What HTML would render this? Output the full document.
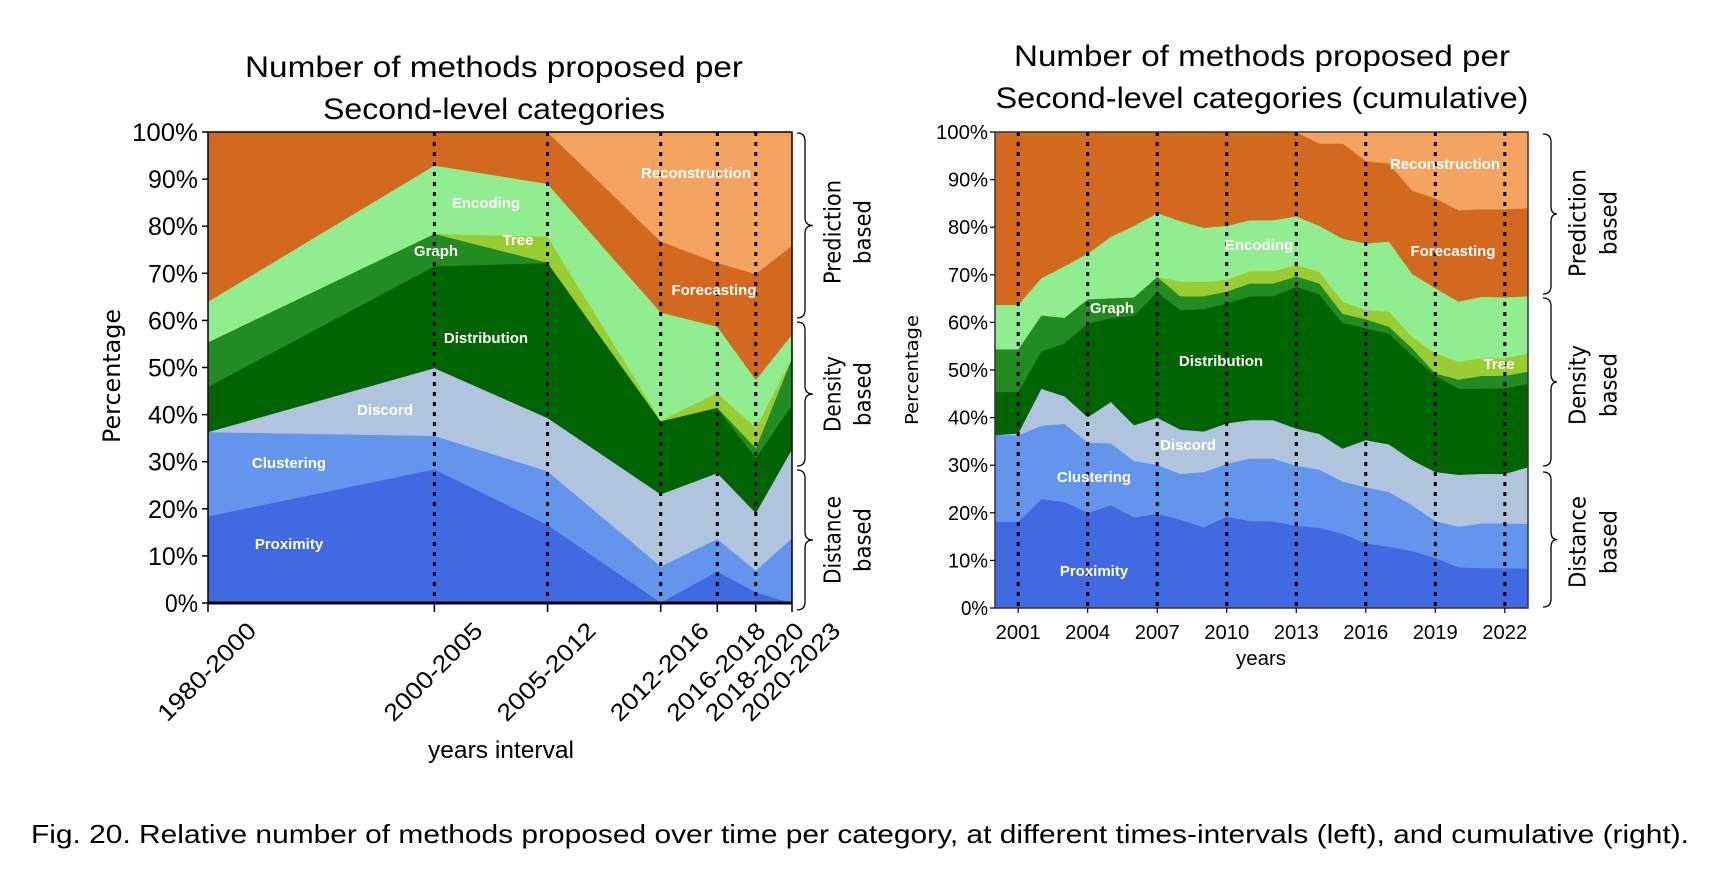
<!DOCTYPE html>
<html><head><meta charset="utf-8"><style>
html,body{margin:0;padding:0;background:#fff;}
svg{display:block;font-family:"Liberation Sans","DejaVu Sans",sans-serif;}
.lbl{fill:#fff;font-weight:bold;font-size:15px;text-anchor:middle;}
</style></head><body>
<svg id="fig" width="1730" height="896" viewBox="0 0 1730 896" xmlns="http://www.w3.org/2000/svg">
<text x="494" y="77" font-size="30" text-anchor="middle" textLength="498" lengthAdjust="spacingAndGlyphs">Number of methods proposed per</text>
<text x="494" y="119" font-size="30" text-anchor="middle" textLength="342" lengthAdjust="spacingAndGlyphs">Second-level categories</text>
<text x="1262" y="66" font-size="30" text-anchor="middle" textLength="496" lengthAdjust="spacingAndGlyphs">Number of methods proposed per</text>
<text x="1262" y="108" font-size="30" text-anchor="middle" textLength="533" lengthAdjust="spacingAndGlyphs">Second-level categories (cumulative)</text>
<g id="left"></g>
<g id="right"></g>
<text x="31" y="843" font-size="26" textLength="1658" lengthAdjust="spacingAndGlyphs">Fig. 20.  Relative number of methods proposed over time per category, at different times-intervals (left), and cumulative (right).</text>
</svg>
<script>
// ---------- LEFT chart data (cumulative layer tops, %) ----------
const leftCategories = ["1980-2000","2000-2005","2005-2012","2012-2016","2016-2018","2018-2020","2020-2023"];
const leftXPos = [0, 4, 6, 8, 9, 9.68, 10.32];
const leftProximity      = [18.4, 28.4, 16.6, 0.1, 6.7, 2.3, 0];
const leftClustering     = [36.3, 35.5, 28.0, 7.8, 13.6, 6.9, 13.8];
const leftDiscord        = [36.3, 49.9, 39.3, 23.1, 27.6, 19.1, 32.7];
const leftDistribution   = [45.9, 71.5, 72.2, 38.6, 41.4, 30.8, 42.1];
const leftGraph          = [55.4, 78.4, 72.3, 38.6, 41.5, 32.9, 52.0];
const leftTree           = [55.4, 78.4, 77.8, 38.8, 44.6, 37.2, 52.0];
const leftEncoding       = [64.0, 92.9, 89.0, 61.7, 58.7, 47.4, 57.0];
const leftForecasting    = [100, 100, 100, 76.8, 72.2, 69.9, 75.9];
const leftReconstruction = [100, 100, 100, 100, 100, 100, 100];

// ---------- RIGHT chart data (cumulative layer tops, %) ----------
const rightYears = [2000,2001,2002,2003,2004,2005,2006,2007,2008,2009,2010,2011,2012,2013,2014,2015,2016,2017,2018,2019,2020,2021,2022,2023];
const rightProximity    = [18.1,18.1,22.9,22.3,20.0,21.6,19.1,19.8,18.6,17.0,19.2,18.3,18.2,17.3,16.9,15.6,13.6,12.9,12.0,10.5,8.6,8.4,8.4,8.3];
const rightClustering   = [36.3,36.3,38.3,38.7,34.8,34.6,30.9,30.1,28.2,28.6,30.3,31.4,31.4,29.9,29.1,26.6,25.4,24.4,21.6,18.3,17.1,17.8,17.8,17.7];
const rightDiscord      = [36.3,36.7,46.1,44.5,40.1,43.3,38.4,40.0,37.5,37.1,38.8,39.5,39.5,37.7,36.6,33.5,35.3,34.4,31.1,28.6,28.0,28.2,28.2,29.6];
const rightDistribution = [45.4,45.4,53.9,55.6,59.8,60.9,61.5,66.3,62.6,62.8,64.0,65.5,65.5,67.5,65.9,59.9,58.8,57.6,53.1,48.8,46.1,46.1,46.2,47.1];
const rightGraph        = [54.4,54.4,61.5,61.0,64.9,65.1,65.3,69.6,65.5,65.5,66.5,68.2,68.2,69.7,68.2,61.8,60.7,59.1,54.6,49.3,48.0,48.8,48.8,49.7];
const rightTree         = [54.4,54.4,61.5,61.0,64.9,65.1,65.3,69.6,68.6,68.5,69.0,70.8,70.8,72.1,70.6,64.4,62.6,62.3,57.0,53.5,51.8,52.5,52.5,53.5];
const rightEncoding     = [63.7,63.7,69.3,71.8,74.5,78.0,80.3,83.0,81.3,79.9,80.3,81.5,81.5,82.3,80.3,77.6,76.6,77.0,70.2,67.2,64.4,65.4,65.3,65.5];
const rightForecasting  = [100,100,100,100,100,100,100,100,100,100,100,100,100,100,97.6,97.6,93.9,93.4,87.7,86.1,83.6,83.8,83.8,84.0];
const rightReconstruction = [100,100,100,100,100,100,100,100,100,100,100,100,100,100,100,100,100,100,100,100,100,100,100,100];
const rightTickYears = [2001,2004,2007,2010,2013,2016,2019,2022];
const yTicks = [0,10,20,30,40,50,60,70,80,90,100];

const layerNames = ["proximity","clustering","discord","distribution","graph","tree","encoding","forecasting","reconstruction"];
const colors = ["#4169E1","#6495ED","#B0C4DE","#006400","#228B22","#9ACD32","#90EE90","#D2691E","#F4A460"];
const NS = "http://www.w3.org/2000/svg";
function mk(tag, attrs, parent, txt){
  const e = document.createElementNS(NS, tag);
  for (const k in attrs) e.setAttribute(k, attrs[k]);
  if (txt !== undefined) e.textContent = txt;
  parent.appendChild(e); return e;
}
function drawStack(g, xs, layers, sx, sy, prefix){
  let prev = xs.map(()=>0);
  layers.forEach((top, i) => {
    let d = "";
    xs.forEach((x,j)=>{ d += (j?"L":"M") + sx(x).toFixed(1)+","+sy(top[j]).toFixed(1); });
    for (let j = xs.length-1; j>=0; j--) d += "L"+sx(xs[j]).toFixed(1)+","+sy(prev[j]).toFixed(1);
    d += "Z";
    const p = mk("path", {d:d, fill:colors[i], stroke:colors[i], "stroke-width":"0.5"}, g);
    
    
    prev = top;
  });
}
function brace(g, x, y1, y2, w, name){
  const m = (y1+y2)/2, r = 8;
  const d = `M${x},${y1} Q${x+r},${y1} ${x+r},${y1+r} L${x+r},${m-r} Q${x+r},${m} ${x+w},${m} Q${x+r},${m} ${x+r},${m+r} L${x+r},${y2-r} Q${x+r},${y2} ${x},${y2}`;
  const p = mk("path", {d:d, fill:"none", stroke:"#000", "stroke-width":"1.3"}, g);
  
  
}
function groupLabel(g, cx1, cx2, cy, l1, len1, name){
  const t1 = mk("text", {x:0, y:0, "font-size":"23", "font-family":"DejaVu Sans, sans-serif", "text-anchor":"middle", "dominant-baseline":"middle", transform:`translate(${cx1},${cy}) rotate(-90)`, textLength:len1, lengthAdjust:"spacingAndGlyphs"}, g, l1);
  
  
  const t2 = mk("text", {x:0, y:0, "font-size":"23", "font-family":"DejaVu Sans, sans-serif", "text-anchor":"middle", "dominant-baseline":"middle", transform:`translate(${cx2},${cy}) rotate(-90)`, textLength:"64", lengthAdjust:"spacingAndGlyphs"}, g, "based");
  
  
}
function label(g, x, y, txt, name, size){
  const t = mk("text", {x:x, y:y, class:"lbl", "font-size":size||15}, g, txt);
  
  
}

// ---------- LEFT ----------
(function(){
  const g = document.getElementById("left");
  const X0=208, X1=792, Y0=603, Y1=132;
  const sx = v => X0 + (v - leftXPos[0])/(leftXPos[leftXPos.length-1]-leftXPos[0])*(X1-X0);
  const sy = v => Y0 - v/100*(Y0-Y1);
  drawStack(g, leftXPos, [leftProximity,leftClustering,leftDiscord,leftDistribution,leftGraph,leftTree,leftEncoding,leftForecasting,leftReconstruction], sx, sy, "left");
  leftXPos.forEach((x,i)=>{
    if (i>0 && i<leftXPos.length-1){
      const l = mk("line",{x1:sx(x),x2:sx(x),y1:Y1,y2:Y0,stroke:"#000","stroke-width":"3","stroke-dasharray":"4 6"},g);
      
      
    }
  });
  const ax = mk("path",{d:`M${X0},${Y1}L${X0},${Y0}L${X1},${Y0}L${X1},${Y1}Z`,fill:"none",stroke:"#000","stroke-width":"1.5"},g);
  
  
  mk("line",{x1:X0,x2:X1,y1:Y0,y2:Y0,stroke:"#000","stroke-width":"3"},g);
  yTicks.forEach(v=>{
    mk("line",{x1:X0-6,x2:X0,y1:sy(v),y2:sy(v),stroke:"#000","stroke-width":"1.5"},g);
    const t = mk("text",{x:X0-10,y:sy(v)+9,"font-size":"25","text-anchor":"end",textLength:v==100?"66":(v==0?"33":"50"),lengthAdjust:"spacingAndGlyphs"},g,v+"%");
    
    
  });
  leftXPos.forEach((x,i)=>{
    mk("line",{x1:sx(x),x2:sx(x),y1:Y0,y2:Y0+9,stroke:"#000","stroke-width":"1.5"},g);
    const t = mk("text",{x:0,y:0,"font-size":"24","text-anchor":"middle","dominant-baseline":"middle",transform:`translate(${sx(x)},${Y0+70}) rotate(-45)`,textLength:"128",lengthAdjust:"spacingAndGlyphs"},g,leftCategories[i]);
    
    
  });
  const xt = mk("text",{x:501,y:758,"font-size":"24","text-anchor":"middle",textLength:"146",lengthAdjust:"spacingAndGlyphs"},g,"years interval");
  
  
  const yt = mk("text",{x:0,y:0,"font-size":"24","font-family":"DejaVu Sans, sans-serif","text-anchor":"middle","dominant-baseline":"middle",transform:"translate(113,376) rotate(-90)",textLength:"134",lengthAdjust:"spacingAndGlyphs"},g,"Percentage");
  
  
  brace(g, 797, 133, 318, 16, "left-brace-prediction");
  brace(g, 797, 322, 466, 16, "left-brace-density");
  brace(g, 797, 470, 610, 16, "left-brace-distance");
  groupLabel(g, 834, 864, 232, "Prediction", "104", "left-prediction");
  groupLabel(g, 834, 864, 394, "Density", "76", "left-density");
  groupLabel(g, 834, 864, 540, "Distance", "88", "left-distance");
  label(g,696,178,"Reconstruction","left-label-reconstruction");
  label(g,486,208,"Encoding","left-label-encoding");
  label(g,518,245,"Tree","left-label-tree");
  label(g,436,256,"Graph","left-label-graph");
  label(g,714,295,"Forecasting","left-label-forecasting");
  label(g,486,343,"Distribution","left-label-distribution");
  label(g,385,415,"Discord","left-label-discord");
  label(g,289,468,"Clustering","left-label-clustering");
  label(g,289,549,"Proximity","left-label-proximity");
})();

// ---------- RIGHT ----------
(function(){
  const g = document.getElementById("right");
  const X0=995, X1=1528, Y0=608, Y1=132;
  const sx = v => X0 + (v-2000)/23*(X1-X0);
  const sy = v => Y0 - v/100*(Y0-Y1);
  drawStack(g, rightYears, [rightProximity,rightClustering,rightDiscord,rightDistribution,rightGraph,rightTree,rightEncoding,rightForecasting,rightReconstruction], sx, sy, "right");
  rightTickYears.forEach(y=>{
    const l = mk("line",{x1:sx(y),x2:sx(y),y1:Y1,y2:Y0,stroke:"#000","stroke-width":"3","stroke-dasharray":"4 6"},g);
    
    
  });
  const ax = mk("path",{d:`M${X0},${Y1}L${X0},${Y0}L${X1},${Y0}L${X1},${Y1}Z`,fill:"none",stroke:"#333","stroke-width":"1.5"},g);
  
  
  yTicks.forEach(v=>{
    mk("line",{x1:X0-5,x2:X0,y1:sy(v),y2:sy(v),stroke:"#000","stroke-width":"1.2"},g);
    const t = mk("text",{x:X0-7,y:sy(v)+7,"font-size":"20","text-anchor":"end",textLength:v==100?"52":(v==0?"27":"40"),lengthAdjust:"spacingAndGlyphs"},g,v+"%");
    
    
  });
  rightTickYears.forEach(y=>{
    mk("line",{x1:sx(y),x2:sx(y),y1:Y0,y2:Y0+5,stroke:"#000","stroke-width":"1.2"},g);
    const t = mk("text",{x:sx(y),y:Y0+31,"font-size":"20","text-anchor":"middle",textLength:"45",lengthAdjust:"spacingAndGlyphs"},g,String(y));
    
    
  });
  const xt = mk("text",{x:1261,y:665,"font-size":"20","text-anchor":"middle",textLength:"50",lengthAdjust:"spacingAndGlyphs"},g,"years");
  
  
  const yt = mk("text",{x:0,y:0,"font-size":"18","font-family":"DejaVu Sans, sans-serif","text-anchor":"middle","dominant-baseline":"middle",transform:"translate(913,370) rotate(-90)",textLength:"110",lengthAdjust:"spacingAndGlyphs"},g,"Percentage");
  
  
  brace(g, 1543, 134, 294, 14, "right-brace-prediction");
  brace(g, 1543, 298, 466, 14, "right-brace-density");
  brace(g, 1543, 472, 607, 14, "right-brace-distance");
  groupLabel(g, 1579, 1610, 223, "Prediction", "108", "right-prediction");
  groupLabel(g, 1579, 1610, 385, "Density", "80", "right-density");
  groupLabel(g, 1579, 1610, 542, "Distance", "92", "right-distance");
  label(g,1445,169,"Reconstruction","right-label-reconstruction",14);
  label(g,1259,250,"Encoding","right-label-encoding",14);
  label(g,1453,256,"Forecasting","right-label-forecasting",14);
  label(g,1112,313,"Graph","right-label-graph",14);
  label(g,1499,369,"Tree","right-label-tree",14);
  label(g,1221,366,"Distribution","right-label-distribution",14);
  label(g,1188,450,"Discord","right-label-discord",14);
  label(g,1094,482,"Clustering","right-label-clustering",14);
  label(g,1094,576,"Proximity","right-label-proximity",14);
})();
</script>
</body></html>
